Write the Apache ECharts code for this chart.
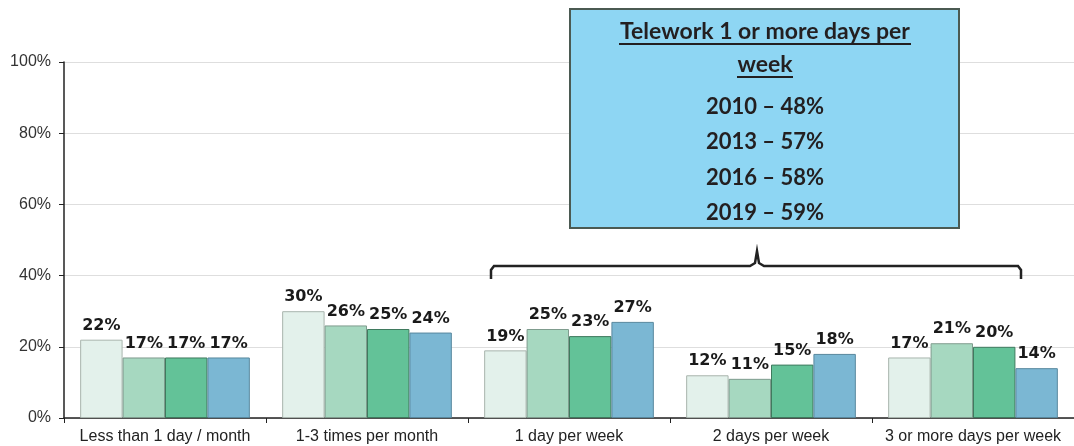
<!DOCTYPE html>
<html><head><meta charset="utf-8">
<script src="https://cdn.jsdelivr.net/npm/echarts@6/dist/echarts.min.js"></script>
<style>html,body{margin:0;padding:0;background:#fff}#c{width:1074px;height:446px}</style>
</head><body><div id="c"></div>
<script>
const categories = ['Less than 1 day / month','1-3 times per month','1 day per week','2 days per week','3 or more days per week'];
const years = ['2010','2013','2016','2019'];
const v2010 = [22,30,19,12,17];
const v2013 = [17,26,25,11,21];
const v2016 = [17,25,23,15,20];
const v2019 = [17,24,27,18,14];
const yTicks = [0,20,40,60,80,100];
const boxTitle = ['Telework 1 or more days per','week'];
const boxLines = ['2010 – 48%','2013 – 57%','2016 – 58%','2019 – 59%'];
const colors = ['#e3f1eb','#a6d8c0','#63c298','#7bb7d3'];
const borders = ['#a9b5ae','#7f9c8e','#3f7a5e','#58889e'];

const chart = echarts.init(document.getElementById('c'));
const allVals = [v2010,v2013,v2016,v2019];
const series = allVals.map((d,i)=>({
  name: years[i], type:'bar', data:d,
  barGap:'0%', barCategoryGap:'16%',
  itemStyle:{color:colors[i], borderColor:borders[i], borderWidth:1},
  label:{show:true, position:'top', distance:6, formatter:'{c}%', color:'#1a1a1a',
    fontFamily:'DejaVu Sans', fontWeight:'bold', fontSize:16},
  z:2
}));

const graphics = [];
graphics.push({type:'rect', shape:{x:570,y:9,width:389,height:219},
  style:{fill:'#8ed6f3', stroke:'#4b5a52', lineWidth:2}, z:10});
boxTitle.forEach((t,i)=>{
  graphics.push({type:'text', x:765, y:32+i*33, style:{text:t, font:'bold 23px Lato', fill:'#231f20', textAlign:'center', textVerticalAlign:'middle'}, z:11});
});
graphics.push({type:'line', shape:{x1:619,y1:44,x2:911,y2:44}, style:{stroke:'#231f20', lineWidth:2}, z:11});
graphics.push({type:'line', shape:{x1:737,y1:77,x2:793,y2:77}, style:{stroke:'#231f20', lineWidth:2}, z:11});
boxLines.forEach((t,i)=>{
  graphics.push({type:'text', x:765, y:107+i*35.3, style:{text:t, font:'bold 22px Lato', fill:'#231f20', textAlign:'center', textVerticalAlign:'middle'}, z:11});
});
graphics.push({type:'polyline', shape:{points:[[491,279],[491,270],[494,266],[750,266],[755,263],[757,251],[759,263],[764,266],[1018,266],[1021,270],[1021,279]]},
  style:{stroke:'#222', lineWidth:2.5, fill:null}, z:11});

chart.setOption({
  animation:false,
  grid:{left:64, right:-5, top:62, bottom:28},
  xAxis:{type:'category', data:categories,
    axisLine:{lineStyle:{color:'#222', width:1.5}},
    axisTick:{show:true, length:5, lineStyle:{color:'#222'}},
    axisLabel:{color:'#222', fontSize:16, fontFamily:'Liberation Sans', margin:11, interval:0, hideOverlap:false}},
  yAxis:{type:'value', min:0, max:100, interval:20,
    axisLine:{show:true, lineStyle:{color:'#222', width:1.5}},
    axisTick:{show:true, length:5, lineStyle:{color:'#222'}},
    splitLine:{lineStyle:{color:'#dedede'}},
    axisLabel:{color:'#333', fontSize:16, fontFamily:'Liberation Sans', margin:13,
      formatter:(v)=> yTicks.includes(v) ? v+'%' : ''}},
  series: series,
  graphic: graphics
});
</script></body></html>
